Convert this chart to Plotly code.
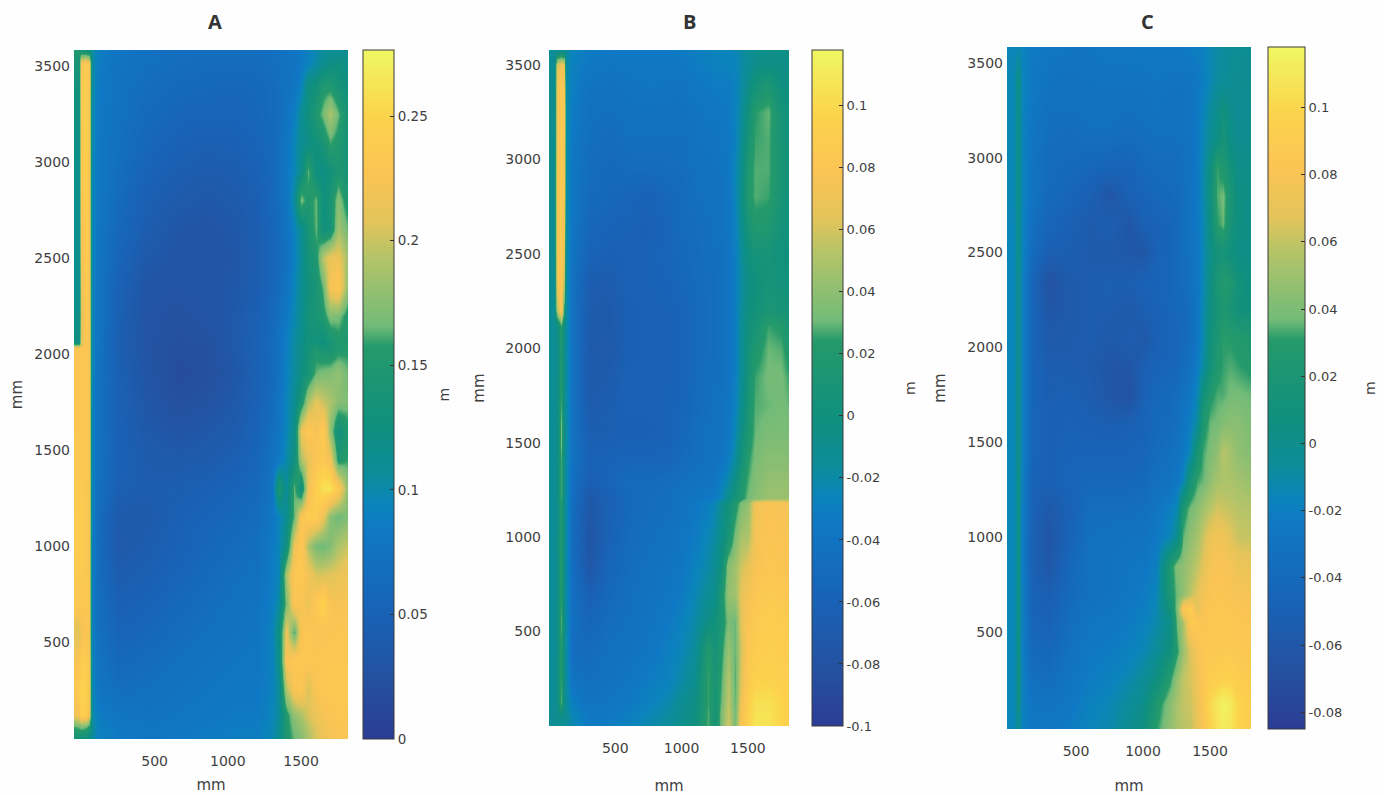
import numpy as np
import plotly.graph_objects as go

# ---------- data (values in thousandths of a metre) ----------
x_a = [-50,-15,0,30,55,70,110,250,450,650,850,1050,1200,1300,1350,1400,1450,1500,1550,1600,1650,1700,1750,1820]
y_a = [3580,3510,3400,3250,3100,2950,2800,2650,2500,2350,2200,2060,2030,1900,1750,1600,1450,1300,1150,1000,850,700,550,400,250,120,60,0]
z_a = [
[150,150,140,135,130,105,90,78,72,68,66,66,66,70,72,74,78,84,90,98,106,110,112,112],
[140,140,225,240,225,105,88,76,70,66,64,64,64,68,70,72,76,84,92,102,115,122,125,118],
[130,130,235,242,230,105,86,74,66,62,60,58,60,64,68,72,78,92,122,130,150,150,135,125],
[125,125,235,242,228,100,84,72,62,56,54,54,58,64,68,76,88,110,128,150,168,190,165,135],
[120,120,235,242,228,100,84,70,58,50,46,48,54,62,68,78,95,112,120,130,140,160,150,135],
[118,118,235,240,228,96,84,68,52,44,40,42,50,60,68,80,95,118,165,125,120,130,145,135],
[116,116,228,240,225,96,82,64,46,38,34,38,46,58,68,78,105,170,150,165,125,140,175,145],
[115,115,222,238,225,96,80,60,42,32,30,34,44,56,64,74,92,112,140,165,128,135,185,165],
[115,115,215,238,225,96,80,56,36,30,32,32,44,54,62,72,90,108,135,150,195,215,215,185],
[115,115,212,236,225,96,78,50,30,28,30,34,44,56,64,76,94,112,128,140,165,222,235,175],
[120,120,205,232,226,96,78,48,28,24,28,36,48,60,70,82,98,112,135,140,150,172,170,150],
[125,125,205,232,226,96,78,46,28,22,24,36,50,62,74,88,104,116,132,130,125,140,150,150],
[225,225,228,232,226,96,78,46,28,20,22,36,50,62,74,88,104,118,135,150,140,140,150,155],
[232,232,232,232,226,96,76,48,30,18,20,34,48,62,74,90,106,122,140,165,170,172,180,165],
[232,232,232,232,226,94,74,48,32,22,26,36,50,64,78,92,112,142,190,210,200,190,175,172],
[232,232,232,232,226,94,74,50,36,30,34,40,54,68,80,95,118,215,235,222,238,180,130,150],
[234,234,234,232,226,94,74,50,40,38,40,46,58,72,84,100,125,190,210,230,235,220,150,160],
[236,236,236,234,226,92,72,46,42,44,48,54,62,76,150,105,165,125,215,245,260,262,235,175],
[238,238,238,234,226,92,68,38,38,48,54,60,66,80,92,112,165,228,240,238,215,175,165,172],
[238,238,238,234,222,90,68,36,42,50,58,64,70,84,96,125,215,235,190,168,165,172,190,200],
[236,236,236,234,222,90,68,42,46,54,62,68,72,86,96,190,232,235,220,205,205,208,212,218],
[232,232,234,232,220,90,70,48,52,60,66,72,76,88,105,170,228,225,215,235,250,225,222,225],
[208,208,220,230,220,92,72,54,58,64,70,74,78,92,125,215,160,225,232,225,225,228,230,232],
[222,228,238,238,225,96,76,60,64,70,74,78,80,90,120,225,235,232,230,230,232,232,232,232],
[230,240,250,245,228,100,80,68,70,74,78,82,82,92,108,190,225,230,205,228,232,234,234,234],
[215,225,245,240,215,105,88,78,76,78,82,84,84,94,108,150,180,190,205,215,222,226,230,232],
[160,165,170,165,150,110,92,82,78,80,84,86,86,96,110,150,170,180,195,208,218,224,228,230],
[135,135,130,125,115,105,92,84,80,82,86,88,88,98,112,150,165,175,190,205,215,222,226,228],
]

x_b = [0,40,60,90,115,130,170,300,450,600,750,900,1000,1100,1200,1250,1300,1350,1400,1450,1500,1550,1650,1750,1810]
y_b = [3580,3500,3400,3250,3100,2950,2800,2650,2500,2350,2200,2120,2000,1850,1700,1550,1400,1300,1210,1180,1000,850,700,550,400,250,120,60,0]
z_b = [
[-15,-15,-15,-15,-15,-18,-26,-32,-34,-34,-34,-34,-32,-30,-28,-26,-26,-26,-24,-20,-14,-10,-6,-6,-6],
[-13,-13,60,75,65,-18,-28,-36,-38,-36,-36,-36,-36,-32,-30,-28,-28,-28,-26,-20,-14,-8,-4,-6,-6],
[-12,-12,70,85,75,-18,-30,-40,-42,-40,-38,-40,-40,-36,-34,-32,-32,-32,-28,-20,-8,5,14,-2,-4],
[-11,-11,72,86,80,-18,-32,-44,-46,-42,-42,-42,-42,-40,-38,-38,-36,-34,-28,-16,2,24,30,8,0],
[-11,-11,74,88,78,-18,-34,-46,-50,-46,-46,-46,-46,-42,-40,-40,-38,-36,-28,-14,10,26,28,10,2],
[-11,-11,76,88,78,-18,-36,-48,-52,-50,-50,-48,-48,-44,-42,-42,-40,-36,-26,-10,18,28,28,12,2],
[-11,-11,76,86,76,-18,-36,-50,-54,-56,-60,-54,-50,-46,-44,-44,-42,-38,-26,-8,20,28,26,10,2],
[-12,-12,76,86,72,-18,-38,-54,-58,-60,-62,-56,-50,-48,-46,-44,-42,-38,-28,-12,10,20,18,6,0],
[-12,-12,76,86,66,-18,-40,-58,-62,-60,-60,-56,-52,-50,-46,-46,-44,-40,-30,-16,0,6,8,2,0],
[-13,-13,72,84,50,-18,-42,-66,-68,-60,-60,-58,-54,-50,-48,-46,-44,-40,-30,-18,-4,0,8,4,2],
[-13,-13,50,80,20,-18,-42,-68,-70,-62,-60,-60,-58,-52,-48,-46,-44,-40,-30,-16,-2,4,12,10,6],
[-13,-13,-6,24,-4,-18,-42,-68,-70,-62,-60,-60,-58,-52,-48,-46,-44,-40,-30,-14,2,8,26,22,10],
[-13,-13,-8,18,-8,-18,-42,-70,-72,-62,-60,-60,-58,-52,-48,-46,-44,-40,-30,-14,4,18,30,28,18],
[-13,-13,-8,20,-8,-18,-42,-70,-68,-60,-60,-60,-58,-52,-46,-46,-44,-40,-30,-14,8,26,32,32,26],
[-13,-13,-8,26,-8,-18,-42,-68,-66,-60,-60,-60,-56,-50,-46,-44,-42,-38,-28,-12,12,28,30,32,30],
[-13,-13,-6,34,-6,-18,-40,-64,-64,-62,-62,-60,-54,-48,-44,-44,-42,-36,-24,-4,16,30,34,34,34],
[-13,-13,-8,26,-8,-20,-42,-60,-58,-56,-56,-56,-50,-46,-44,-42,-38,-30,-16,6,24,34,38,38,38],
[-13,-13,-8,26,-8,-20,-44,-64,-56,-50,-50,-48,-44,-42,-40,-38,-30,-20,-4,14,28,36,42,42,42],
[-13,-13,-8,26,-8,-20,-46,-72,-62,-52,-48,-46,-42,-38,-36,-32,-24,-10,8,20,32,38,44,44,44],
[-14,-14,-8,20,-8,-20,-46,-72,-62,-52,-48,-46,-42,-36,-30,-24,-12,2,18,34,42,72,78,76,74],
[-14,-14,-6,18,-6,-20,-48,-76,-60,-50,-46,-44,-38,-32,-24,-18,-6,8,34,48,50,74,80,78,76],
[-14,-14,-8,24,-8,-20,-46,-74,-56,-48,-44,-40,-36,-28,-20,-12,0,38,46,58,66,76,82,80,78],
[-14,-14,-8,22,-8,-20,-44,-62,-52,-46,-42,-38,-32,-24,-14,-8,14,42,46,66,74,82,86,84,82],
[-14,-14,-6,28,-6,-20,-44,-56,-48,-44,-40,-34,-28,-20,-4,2,14,34,30,66,80,86,90,88,86],
[-14,-14,-8,22,-8,-18,-48,-50,-44,-42,-38,-30,-24,-16,22,6,20,44,30,60,84,88,92,90,88],
[-14,-14,-6,24,-6,-18,-40,-46,-42,-38,-32,-28,-20,-10,26,10,26,52,28,64,86,94,96,92,90],
[-13,-13,-8,28,-8,-16,-30,-40,-38,-34,-28,-22,-12,-4,26,8,30,56,30,72,92,104,104,98,92],
[-12,-12,-9,-6,-9,-14,-24,-36,-35,-30,-24,-18,-10,-2,28,8,34,58,32,76,94,106,106,98,92],
[-12,-12,-12,-12,-12,-14,-22,-32,-30,-28,-22,-16,-8,0,28,8,34,60,32,78,96,106,106,98,90],
]

x_c = [-15,40,67,95,170,300,450,600,750,900,1000,1100,1200,1250,1300,1350,1400,1450,1500,1550,1600,1650,1700,1810]
y_c = [3584,3400,3250,3100,2950,2800,2650,2500,2350,2200,2050,1900,1750,1600,1450,1300,1150,1000,850,700,620,550,400,250,120,0]
z_c = [
[-15,-15,-14,-17,-22,-26,-28,-28,-26,-26,-24,-24,-24,-24,-24,-22,-20,-18,-14,-10,-8,-6,-4,-4],
[-14,-14,6,-16,-24,-30,-32,-30,-30,-30,-30,-28,-30,-30,-30,-28,-26,-20,-14,-8,-6,-4,-2,-2],
[-14,-14,4,-16,-26,-34,-34,-32,-32,-34,-32,-30,-32,-32,-30,-28,-24,-16,-8,0,10,0,-4,-2],
[-14,-14,4,-16,-28,-36,-38,-36,-36,-38,-36,-34,-34,-34,-32,-30,-24,-14,-4,4,16,2,-2,0],
[-14,-14,4,-16,-30,-38,-40,-42,-46,-46,-40,-38,-38,-36,-34,-32,-24,-12,6,32,24,12,2,2],
[-14,-14,4,-16,-30,-40,-44,-50,-62,-48,-46,-42,-40,-38,-36,-32,-24,-12,8,34,38,20,6,2],
[-15,-15,2,-16,-34,-44,-50,-56,-52,-62,-50,-48,-44,-40,-36,-32,-24,-14,6,30,36,16,6,2],
[-15,-15,2,-16,-38,-52,-52,-56,-58,-60,-62,-48,-44,-40,-36,-32,-26,-14,2,12,14,8,4,2],
[-15,-15,2,-18,-44,-66,-56,-54,-52,-52,-48,-46,-44,-40,-38,-34,-26,-14,4,20,28,26,12,4],
[-15,-15,2,-18,-44,-62,-58,-54,-54,-58,-52,-48,-44,-42,-40,-36,-26,-12,6,16,24,18,12,8],
[-15,-15,2,-18,-44,-58,-56,-54,-58,-54,-60,-50,-46,-44,-40,-36,-26,-12,10,22,31,30,28,24],
[-15,-15,2,-18,-44,-54,-54,-56,-62,-62,-52,-46,-44,-42,-36,-32,-22,-8,12,26,32,34,32,28],
[-15,-15,4,-18,-44,-52,-50,-54,-62,-66,-48,-42,-40,-36,-32,-26,-14,10,28,34,34,38,38,36],
[-15,-15,4,-18,-44,-50,-48,-50,-52,-50,-46,-40,-38,-34,-28,-20,-8,25,36,38,42,44,44,40],
[-15,-15,4,-18,-44,-50,-46,-46,-46,-46,-44,-38,-34,-30,-24,-14,18,33,40,46,58,52,46,42],
[-15,-15,4,-20,-46,-50,-44,-42,-42,-42,-40,-34,-30,-26,-16,15,32,36,46,52,54,54,52,48],
[-15,-15,4,-20,-48,-58,-48,-36,-36,-36,-34,-28,-20,-12,25,38,44,52,58,64,62,60,58,56],
[-15,-15,4,-20,-50,-62,-46,-34,-32,-30,-30,-24,-14,-2,35,46,52,62,72,76,74,68,62,60],
[-15,-15,4,-20,-50,-60,-42,-32,-30,-28,-26,-20,25,42,46,52,60,68,78,80,80,78,74,72],
[-15,-15,4,-20,-46,-52,-40,-32,-30,-26,-22,-16,22,38,46,58,68,76,82,84,82,80,78,78],
[-15,-15,4,-20,-46,-50,-38,-30,-28,-24,-20,-14,12,42,84,92,68,80,84,86,86,84,82,80],
[-15,-15,4,-20,-44,-48,-36,-28,-26,-22,-18,-12,2,38,54,88,86,82,86,86,86,86,84,82],
[-15,-15,6,-20,-40,-42,-32,-24,-22,-18,-14,-6,10,30,50,66,78,86,86,86,88,88,86,86],
[-15,-15,6,-18,-34,-36,-28,-22,-18,-12,-6,6,30,48,60,64,74,84,92,94,96,96,92,88],
[-15,-15,6,-18,-28,-30,-26,-18,-14,-6,0,24,44,54,60,62,72,86,102,110,116,112,100,90],
[-15,-15,-4,-18,-24,-26,-22,-16,-12,-2,6,30,46,54,58,60,70,82,96,106,112,108,98,90],
]

panel_titles = ["A", "B", "C"]
axis_ticks = [500, 1000, 1500, 2000, 2500, 3000, 3500]
x_ticks = [500, 1000, 1500]
cbar_ticks_a = [0, 0.05, 0.1, 0.15, 0.2, 0.25]
cbar_labels_a = ["0", "0.05", "0.1", "0.15", "0.2", "0.25"]
cbar_ticks_b = [-0.1, -0.08, -0.06, -0.04, -0.02, 0, 0.02, 0.04, 0.06, 0.08, 0.1]
cbar_labels_b = ["-0.1", "-0.08", "-0.06", "-0.04", "-0.02", "0", "0.02", "0.04", "0.06", "0.08", "0.1"]
cbar_ticks_c = cbar_ticks_b[1:]
cbar_labels_c = cbar_labels_b[1:]

# parula-like scale with the two quick changes visible in the printed colour bars
colorscale = [
    [0.00, "#2b3d94"], [0.08, "#25509f"], [0.20, "#1765b9"], [0.30, "#0f78c4"],
    [0.34, "#0a84bb"], [0.38, "#0c8c9c"], [0.45, "#0e8f7f"], [0.57, "#259a6a"],
    [0.60, "#72bb78"], [0.70, "#b5c468"], [0.75, "#e3c45a"], [0.82, "#fbc454"],
    [0.90, "#fcd24c"], [1.00, "#f0f762"],
]

W, H = 1384, 795
TXT = "#3e3e3e"
FONT = "DejaVu Sans"

panels = [
    dict(x=x_a, y=y_a, z=z_a, box=(74, 348, 50, 739), xr=[-50, 1820], yr=[-5, 3583], zr=[0, 0.2765],
         cb=(363, 31), tv=cbar_ticks_a, tt=cbar_labels_a, tx=215, m=443, cs=13.5,
         xs=11, ys=8, yl=3),
    dict(x=x_b, y=y_b, z=z_b, box=(549, 789, 50, 726), xr=[0, 1810], yr=[0, 3580], zr=[-0.1, 0.118],
         cb=(812, 31), tv=cbar_ticks_b, tt=cbar_labels_b, tx=689, m=910, cs=13,
         xs=26, ys=17, yl=7),
    dict(x=x_c, y=y_c, z=z_c, box=(1007, 1251, 47, 729), xr=[-15, 1806], yr=[-12, 3584], zr=[-0.085, 0.118],
         cb=(1268, 37), tv=cbar_ticks_c, tt=cbar_labels_c, tx=1147, m=1370, cs=13,
         xs=24, ys=18, yl=3),
]

fig = go.Figure()
layout = {}
annotations = []
for i, p in enumerate(panels):
    s = "" if i == 0 else str(i + 1)
    x0, x1, y0, y1 = p["box"]
    z = np.flipud(np.array(p["z"], dtype=float) / 1000.0)
    fig.add_trace(go.Heatmap(
        x=p["x"], y=p["y"][::-1], z=z, xaxis="x" + s, yaxis="y" + s,
        colorscale=colorscale, zmin=p["zr"][0], zmax=p["zr"][1], zsmooth="best",
        colorbar=dict(
            x=p["cb"][0] / W, xanchor="left", xpad=0, ypad=0, thickness=p["cb"][1],
            y=1 - y1 / H, yanchor="bottom", len=(y1 - y0) / H, lenmode="fraction",
            outlinecolor="#3a3a3a", outlinewidth=1,
            tickmode="array", tickvals=p["tv"], ticktext=p["tt"],
            ticks="inside", ticklen=4, tickcolor="#333333", tickwidth=1,
            tickfont=dict(family=FONT, size=p["cs"], color=TXT),
        ),
    ))
    common = dict(showgrid=False, zeroline=False, showline=False, ticks="")
    layout["xaxis" + s] = dict(
        common, domain=[x0 / W, x1 / W], range=p["xr"], anchor="y" + s, tickvals=x_ticks,
        ticklabelstandoff=12, tickfont=dict(family=FONT, size=14, color=TXT),
        title=dict(text="mm", font=dict(family=FONT, size=15, color=TXT), standoff=p["xs"]),
    )
    layout["yaxis" + s] = dict(
        common, domain=[1 - y1 / H, 1 - y0 / H], range=p["yr"], anchor="x" + s, tickvals=axis_ticks,
        ticklabelstandoff=p["yl"], tickfont=dict(family=FONT, size=14, color=TXT),
        title=dict(text="mm", font=dict(family=FONT, size=15, color=TXT), standoff=p["ys"]),
    )
    annotations.append(dict(text="<b>%s</b>" % panel_titles[i], x=p["tx"] / W, y=1 - 22 / H, xref="paper", yref="paper",
                            showarrow=False, xanchor="center", yanchor="middle",
                            font=dict(family="Open Sans", size=20, color="#333333")))
    annotations.append(dict(text="m", x=p["m"] / W, y=1 - (y0 + y1) / 2 / H, xref="paper", yref="paper",
                            showarrow=False, xanchor="center", yanchor="middle", textangle=-90,
                            font=dict(family=FONT, size=14, color=TXT)))

fig.update_layout(width=W, height=H, margin=dict(l=0, r=0, t=0, b=0), paper_bgcolor="#fefefe",
                  plot_bgcolor="#fefefe", annotations=annotations, **layout)
fig.write_html("out.html", config={"displayModeBar": False}, post_script="document.body.style.margin='0';")
